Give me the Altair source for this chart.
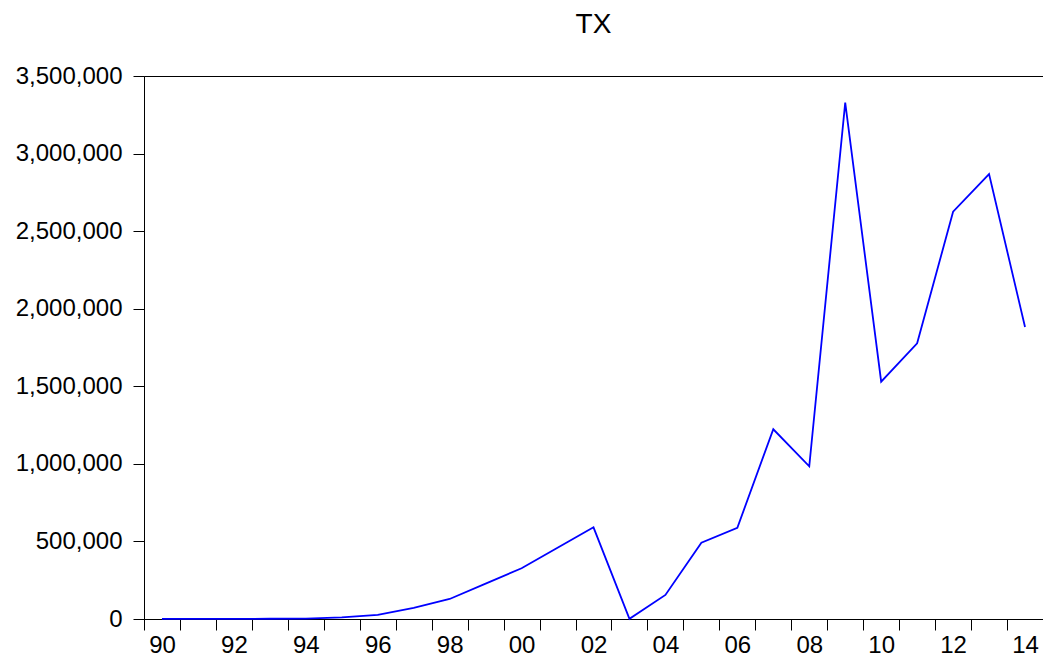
import altair as alt
import pandas as pd

years = list(range(1990, 2015))
tx_values = [300, 500, 800, 1500, 3000, 10000, 27000, 72000, 129000, 228000,
             327000, 459000, 591000, 1000, 155000, 492000, 588000, 1223000,
             984000, 3328000, 1530000, 1777000, 2625000, 2868000, 1882000]
y_ticks = [0, 500000, 1000000, 1500000, 2000000, 2500000, 3000000, 3500000]

df = pd.DataFrame({"year": years, "tx": tx_values})

FONT = "Liberation Sans"

chart = alt.Chart(df).mark_line(color="#0000FF", strokeWidth=1.8).encode(
    x=alt.X(
        "year:O",
        scale=alt.Scale(type="band", paddingInner=0, paddingOuter=0),
        axis=alt.Axis(
            title=None,
            tickBand="extent",
            labelAngle=0,
            labelExpr="datum.value % 2 == 0 ? slice(toString(datum.value), 2) : ''",
            labelFont=FONT,
            labelFontSize=24,
            labelColor="black",
            tickColor="black",
            tickSize=11,
            labelPadding=3,
            domainColor="black",
            grid=False,
        ),
    ),
    y=alt.Y(
        "tx:Q",
        scale=alt.Scale(domain=[0, 3500000], nice=False, zero=True),
        axis=alt.Axis(
            title=None,
            values=y_ticks,
            format=",d",
            labelFont=FONT,
            labelFontSize=24,
            labelColor="black",
            tickColor="black",
            tickSize=11,
            labelPadding=11,
            domainColor="black",
            grid=False,
        ),
    ),
).properties(
    width=899,
    height=543,
    background="white",
    title=alt.TitleParams(
        "TX",
        font=FONT,
        fontSize=28,
        fontWeight="normal",
        color="black",
        anchor="middle",
        offset=25,
    ),
    padding={"left": 136, "top": 68, "right": 0, "bottom": 40},
    autosize=alt.AutoSizeParams(type="none"),
).configure_view(
    stroke="black",
    strokeWidth=1,
)

chart.save("out.html", embed_options={"renderer": "svg", "actions": False})
